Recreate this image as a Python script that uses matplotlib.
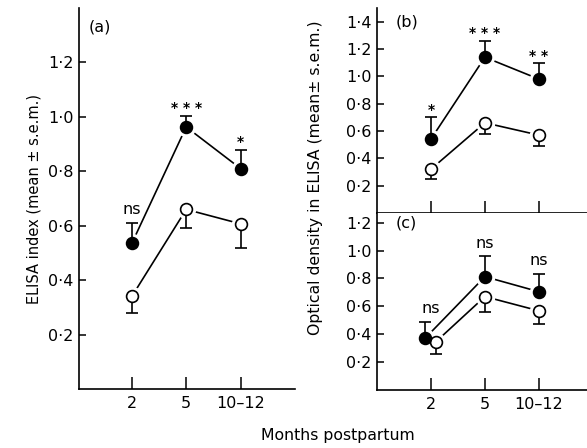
import matplotlib
matplotlib.use("Agg")
from matplotlib import pyplot as plt

# data
months = ['2', '5', '10–12']
sig_a = ['ns', '***', '*']
sig_b = ['*', '***', '**']
sig_c = ['ns', 'ns', 'ns']

a_filled = [0.535, 0.963, 0.81]
a_filled_err = [0.075, 0.04, 0.07]
a_open = [0.34, 0.66, 0.607]
a_open_err = [0.06, 0.07, 0.087]

b_filled = [0.54, 1.14, 0.98]
b_filled_err = [0.16, 0.12, 0.115]
b_open = [0.32, 0.66, 0.57]
b_open_err = [0.07, 0.08, 0.08]

c_filled = [0.374, 0.813, 0.705]
c_filled_err = [0.115, 0.145, 0.13]
c_open = [0.345, 0.67, 0.568]
c_open_err = [0.085, 0.11, 0.093]

a_yticks = [0.2, 0.4, 0.6, 0.8, 1.0, 1.2]
b_yticks = [0.2, 0.4, 0.6, 0.8, 1.0, 1.2, 1.4]
c_yticks = [0.2, 0.4, 0.6, 0.8, 1.0, 1.2]

plt.rcParams['font.family'] = ['DejaVu Sans']
LW = 1.2
FS = 11.5


def fmt(v):
    return ('%.1f' % v).replace('.', '·')


def series(ax, x, y, err, filled):
    ax.plot(x, y, color='black', lw=LW, zorder=1)
    ax.plot(x, y, 'o', ms=13, color='white', mec='white', zorder=2)
    if filled:
        yerr = [[0] * len(err), err]
    else:
        yerr = [err, [0] * len(err)]
    ax.errorbar(x, y, yerr=yerr, fmt='none', ecolor='black', elinewidth=LW,
                capsize=4, capthick=LW, zorder=3)
    ax.plot(x, y, 'o', ms=8.5, mfc='black' if filled else 'white',
            mec='black', mew=1.2, zorder=4)


def style(ax, ylim, yticks, xlim):
    ax.set_xlim(*xlim)
    ax.set_ylim(*ylim)
    for s in ['top', 'right']:
        ax.spines[s].set_visible(False)
    for s in ['left', 'bottom']:
        ax.spines[s].set_linewidth(1.2)
    ax.set_yticks(yticks)
    ax.set_yticklabels([fmt(v) for v in yticks])
    ax.set_xticks(range(len(months)))
    ax.tick_params(axis='y', direction='in', length=5, width=1.1, pad=4,
                   labelsize=FS)
    ax.tick_params(axis='x', direction='in', length=8.5, width=1.1, pad=5,
                   labelsize=FS)


def mark(ax, x, tops, labels):
    for xi, t, s in zip(x, tops, labels):
        if '*' in s:
            ax.annotate(' '.join(s), (xi, t), xytext=(0, 0.5),
                        textcoords='offset points', ha='center', va='bottom',
                        fontsize=10, fontweight='bold')
        else:
            ax.annotate(s, (xi, t), xytext=(0, 4),
                        textcoords='offset points', ha='center', va='bottom',
                        fontsize=FS)


fig = plt.figure(figsize=(5.87, 4.48), dpi=100)
ax_a = fig.add_axes([0.1346, 0.1317, 0.368, 0.8503])
ax_b = fig.add_axes([0.642, 0.5246, 0.358, 0.4574])
ax_c = fig.add_axes([0.642, 0.1295, 0.358, 0.3951])

xs = list(range(len(months)))

# (a)
series(ax_a, xs, a_open, a_open_err, False)
series(ax_a, xs, a_filled, a_filled_err, True)
style(ax_a, (0, 1.4), a_yticks, (-0.97, 3.0))
ax_a.set_xticklabels(months)
mark(ax_a, xs, [v + e for v, e in zip(a_filled, a_filled_err)], sig_a)
ax_a.text(-0.8, 1.33, '(a)', fontsize=FS, va='center')
ax_a.set_ylabel('ELISA index (mean ± s.e.m.)', fontsize=10.5, labelpad=5)

# (b)
series(ax_b, xs, b_open, b_open_err, False)
series(ax_b, xs, b_filled, b_filled_err, True)
style(ax_b, (0, 1.5), b_yticks, (-1.0, 2.89))
ax_b.set_xticklabels([])
mark(ax_b, xs, [v + e for v, e in zip(b_filled, b_filled_err)], sig_b)
ax_b.text(-0.66, 1.4, '(b)', fontsize=FS, va='center')

# (c)
xc_f = [x - 0.1 if i == 0 else x for i, x in enumerate(xs)]
xc_o = [x + 0.09 if i == 0 else x for i, x in enumerate(xs)]
series(ax_c, xc_o, c_open, c_open_err, False)
series(ax_c, xc_f, c_filled, c_filled_err, True)
style(ax_c, (0, 1.27), c_yticks, (-1.0, 2.89))
ax_c.set_xticklabels(months)
mark(ax_c, xs, [v + e for v, e in zip(c_filled, c_filled_err)], sig_c)
ax_c.text(-0.66, 1.2, '(c)', fontsize=FS, va='center')

fig.text(0.537, 0.603, 'Optical density in ELISA (mean± s.e.m.)',
         rotation=90, ha='center', va='center', fontsize=11.3)
fig.text(0.576, 0.029, 'Months postpartum', ha='center', va='center',
         fontsize=11.3)

fig.savefig('out.png', dpi=100)
